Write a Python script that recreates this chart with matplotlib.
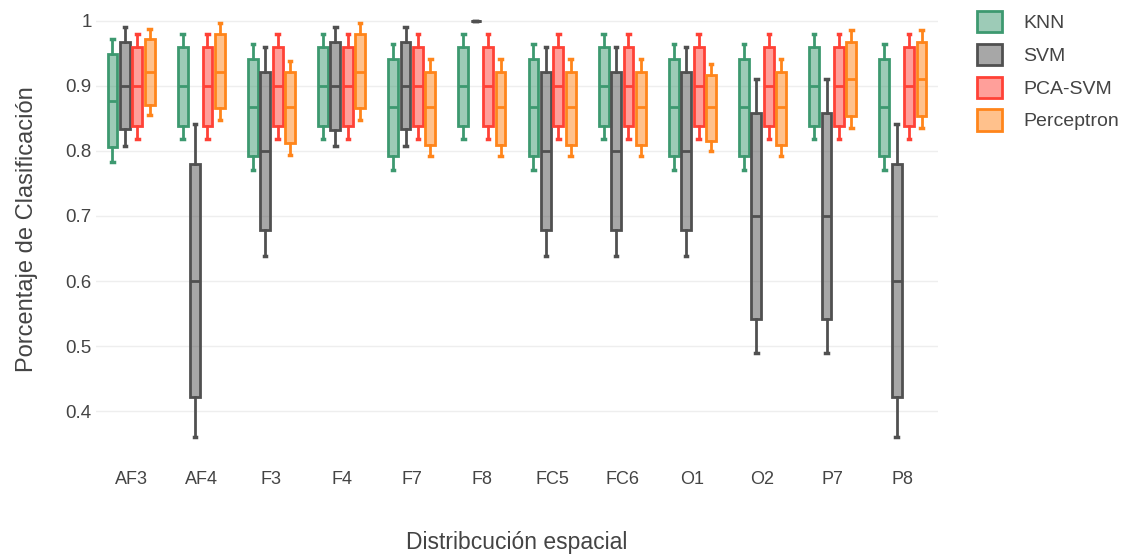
import numpy as np
import matplotlib
matplotlib.use('Agg')
import matplotlib.pyplot as plt
from matplotlib.colors import to_rgba
from matplotlib.patches import Patch

plt.rcParams['font.family'] = ['Liberation Sans', 'DejaVu Sans']

electrodes = ['AF3', 'AF4', 'F3', 'F4', 'F7', 'F8', 'FC5', 'FC6', 'O1', 'O2', 'P7', 'P8']

# (whisker low, q1, median, q3, whisker high) per electrode
knn = [
    (0.783, 0.806, 0.877, 0.949, 0.972),
    (0.818, 0.838, 0.900, 0.960, 0.980),
    (0.770, 0.792, 0.867, 0.941, 0.964),
    (0.818, 0.838, 0.900, 0.960, 0.980),
    (0.770, 0.792, 0.867, 0.941, 0.964),
    (0.818, 0.838, 0.900, 0.960, 0.980),
    (0.770, 0.792, 0.867, 0.941, 0.964),
    (0.818, 0.838, 0.900, 0.960, 0.980),
    (0.770, 0.792, 0.867, 0.941, 0.964),
    (0.770, 0.792, 0.867, 0.941, 0.964),
    (0.818, 0.838, 0.900, 0.960, 0.980),
    (0.770, 0.792, 0.867, 0.941, 0.964),
]
svm = [
    (0.808, 0.833, 0.900, 0.967, 0.991),
    (0.361, 0.421, 0.600, 0.780, 0.842),
    (0.638, 0.679, 0.800, 0.921, 0.960),
    (0.808, 0.832, 0.900, 0.967, 0.991),
    (0.808, 0.833, 0.900, 0.967, 0.991),
    (1.000, 1.000, 1.000, 1.000, 1.000),
    (0.638, 0.679, 0.800, 0.921, 0.960),
    (0.638, 0.679, 0.800, 0.921, 0.960),
    (0.638, 0.679, 0.800, 0.921, 0.960),
    (0.490, 0.541, 0.700, 0.858, 0.910),
    (0.490, 0.541, 0.700, 0.858, 0.910),
    (0.361, 0.421, 0.600, 0.780, 0.842),
]
pca_svm = [(0.818, 0.838, 0.900, 0.960, 0.980)] * 12
perceptron = [
    (0.856, 0.871, 0.922, 0.972, 0.987),
    (0.848, 0.866, 0.922, 0.979, 0.996),
    (0.794, 0.812, 0.867, 0.921, 0.939),
    (0.848, 0.866, 0.922, 0.979, 0.996),
    (0.792, 0.809, 0.867, 0.922, 0.941),
    (0.792, 0.809, 0.867, 0.922, 0.941),
    (0.792, 0.809, 0.867, 0.922, 0.941),
    (0.792, 0.809, 0.867, 0.922, 0.941),
    (0.800, 0.816, 0.867, 0.917, 0.933),
    (0.792, 0.809, 0.867, 0.922, 0.941),
    (0.835, 0.853, 0.911, 0.968, 0.986),
    (0.835, 0.853, 0.911, 0.968, 0.986),
]

series = [('KNN', knn, '#3D9970'),
          ('SVM', svm, '#505050'),
          ('PCA-SVM', pca_svm, '#FF4136'),
          ('Perceptron', perceptron, '#FF851B')]

TXT = '#444444'
fig = plt.figure(figsize=(11.3, 5.59), dpi=100)
ax = fig.add_axes([96/1130, 1 - 458/559, (938-96)/1130, 458/559])

step = 0.177
x = np.arange(len(electrodes))
handles = []
for i, (name, vals, col) in enumerate(series):
    stats = [{'whislo': v[0], 'q1': v[1], 'med': v[2], 'q3': v[3], 'whishi': v[4]} for v in vals]
    ax.bxp(stats, positions=x + (i - 1.5) * step, widths=0.14, patch_artist=True,
           showfliers=False, capwidths=0.035, manage_ticks=False,
           boxprops=dict(facecolor=to_rgba(col, 0.5), edgecolor=col, linewidth=2),
           medianprops=dict(color=col, linewidth=2),
           whiskerprops=dict(color=col, linewidth=2),
           capprops=dict(color=col, linewidth=2.5), zorder=3)
    handles.append(Patch(facecolor=to_rgba(col, 0.5), edgecolor=col, linewidth=2, label=name))

ax.set_xlim(-0.5, len(electrodes) - 0.5)
ax.set_ylim(0.328, 1.032)
ax.set_yticks([0.4, 0.5, 0.6, 0.7, 0.8, 0.9, 1.0])
ax.set_yticklabels(['0.4', '0.5', '0.6', '0.7', '0.8', '0.9', '1'])
ax.set_xticks(x)
ax.set_xticklabels(electrodes)
ax.grid(axis='y', color='#eeeeee', linewidth=1, zorder=0)
ax.set_axisbelow(True)
for s in ax.spines.values():
    s.set_visible(False)
ax.tick_params(axis='y', length=0, labelsize=13.5, colors=TXT, pad=3)
ax.tick_params(axis='x', length=0, labelsize=13, colors=TXT, pad=9)

ax.set_xlabel('Distribcución espacial', fontsize=16.5, color=TXT, labelpad=31)
ax.set_ylabel('Porcentaje de Clasificación', fontsize=17, color=TXT, labelpad=20)

fig.legend(handles=handles, loc='upper left', bbox_to_anchor=(0.849, 1.012), frameon=False,
           fontsize=14, labelcolor=TXT, handlelength=1.3, handleheight=1.3,
           handletextpad=1.1, labelspacing=0.6)

fig.savefig('out.png', dpi=100)
